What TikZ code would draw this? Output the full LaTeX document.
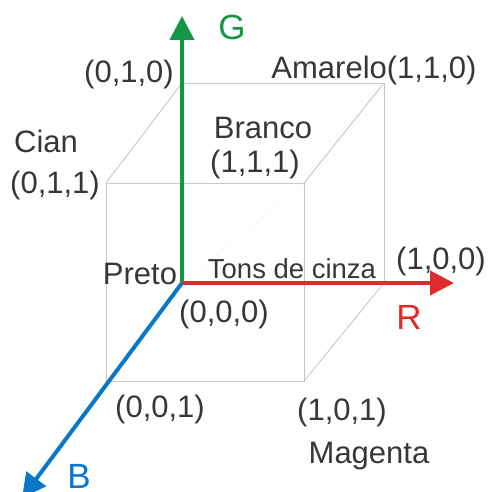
\documentclass[tikz,border=0pt]{standalone}
\usepackage{fontspec}
\setmainfont{Liberation Sans}
\usetikzlibrary{arrows.meta}

\definecolor{axisG}{RGB}{20,150,70}
\definecolor{axisR}{RGB}{222,44,44}
\definecolor{axisB}{RGB}{10,120,200}
\definecolor{txt}{RGB}{55,55,55}

\tikzset{
  edge/.style={draw=black!22, line width=0.9pt},
  axis/.style={line width=4pt, -{Triangle[length=24pt,width=24pt]}},
  lbl/.style={text=txt, anchor=base, inner sep=0pt, font=\fontsize{31}{32}\selectfont},
  axlbl/.style={anchor=base, inner sep=0pt, font=\fontsize{35}{36}\selectfont}
}

\begin{document}
\begin{tikzpicture}[x=1pt,y=-1pt]
    \useasboundingbox (0,0) rectangle (489,492);

    % Cube vertices
    \coordinate (k000) at (182,283);
    \coordinate (k010) at (182,83);
    \coordinate (k110) at (384,83);
    \coordinate (k100) at (384,283);
    \coordinate (k001) at (106,381);
    \coordinate (k011) at (106,183);
    \coordinate (k111) at (304,183);
    \coordinate (k101) at (304,381);

    % Axis tips
    \coordinate (tipG) at (182,16);
    \coordinate (tipR) at (454,283);
    \coordinate (tipB) at (22,498);

    % Cube edges
    \draw[edge] (k010) -- (k110) -- (k100);
    \draw[edge] (k011) -- (k111) -- (k101) -- (k001) -- cycle;
    \draw[edge] (k010) -- (k011);
    \draw[edge] (k110) -- (k111);
    \draw[edge] (k100) -- (k101);

    % Gray line
    \draw[black!8, line width=1pt, dotted] (k000) -- (k111);

    % Axes
    \draw[axis, axisG] (k000) -- (tipG);
    \draw[axis, axisR] (k000) -- (tipR);
    \draw[axis, axisB] (k000) -- (tipB);

    % Axis labels
    \node[axlbl, text=axisG] (labG) at (232,40) {G};
    \node[axlbl, text=axisR] (labR) at (409,329) {R};
    \node[axlbl, text=axisB] (labB) at (79,488) {B};

    % Vertex labels
    \node[lbl] (t010) at (129,83) {(0,1,0)};
    \node[lbl] (t110) at (374,79) {Amarelo(1,1,0)};
    \node[lbl] (cian) at (46,152) {Cian};
    \node[lbl] (t011) at (55,193) {(0,1,1)};
    \node[lbl] (branco) at (263,138) {Branco};
    \node[lbl] (t111) at (255,172) {(1,1,1)};
    \node[lbl] (preto) at (140,284) {Preto};
    \node[lbl, font=\fontsize{27.5}{28}\selectfont] (cinza) at (292,278) {Tons de cinza};
    \node[lbl] (t000) at (224,322) {(0,0,0)};
    \node[lbl] (t100) at (441,269) {(1,0,0)};
    \node[lbl] (t001) at (160,417) {(0,0,1)};
    \node[lbl] (t101) at (342,420) {(1,0,1)};
    \node[lbl] (magenta) at (369,463) {Magenta};
\end{tikzpicture}
\end{document}
